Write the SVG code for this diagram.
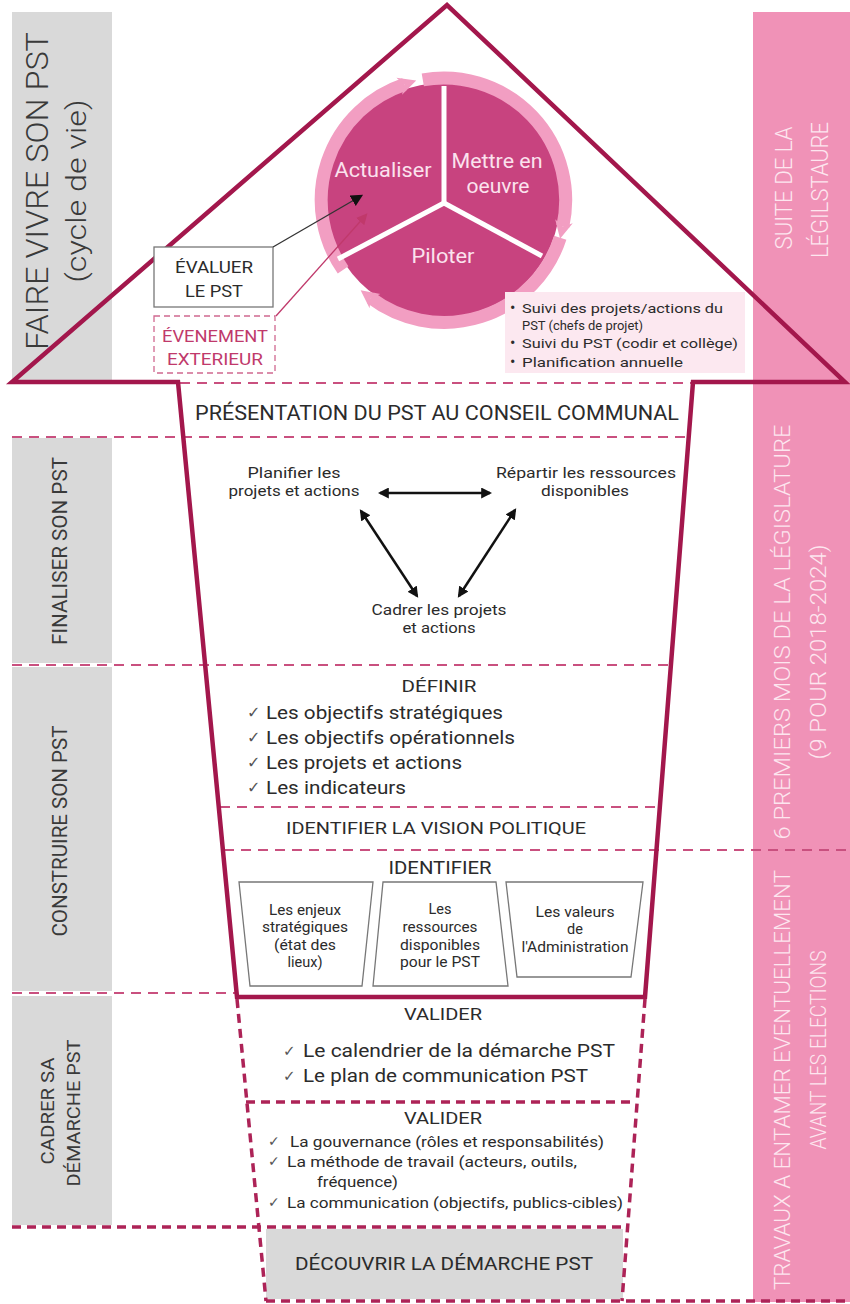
<svg xmlns="http://www.w3.org/2000/svg" width="850" height="1304" viewBox="0 0 850 1304">
<style>
.t{font-family:Roboto,"DejaVu Sans",sans-serif;fill:#2b2b2b}
.c{text-anchor:middle}
.dash{stroke:#c9507f;stroke-width:2;stroke-dasharray:10 7;fill:none}
.bdash{stroke:#ad2357;stroke-width:3.5;stroke-dasharray:9 6;fill:none}
.side{fill:#d9d9d9}
.lbl{font-family:Roboto,"DejaVu Sans",sans-serif;fill:#3a3a3a;text-anchor:middle}
.pk{font-family:Roboto,"DejaVu Sans",sans-serif;fill:#fde6ef;font-weight:300;text-anchor:middle}
.ck{font-family:"DejaVu Sans",sans-serif;fill:#555}
.box{fill:#fff;stroke:#777;stroke-width:1.3}
.cyc{font-family:Roboto,"DejaVu Sans",sans-serif;fill:#fbe2ee;text-anchor:middle;font-size:20px}
.ring{fill:none;stroke:#f29ec2;stroke-width:13}
.arr{stroke:#111;stroke-width:2.5;fill:none}
.bx{font-size:14.5px}
</style>
<defs>
<marker id="ah" viewBox="0 0 10 10" refX="8" refY="5" markerWidth="11" markerHeight="11" markerUnits="userSpaceOnUse" orient="auto-start-reverse"><path d="M0,0 L10,5 L0,10 Z" fill="#111"/></marker>
<marker id="ahb" viewBox="0 0 10 10" refX="8" refY="5" markerWidth="12" markerHeight="12" markerUnits="userSpaceOnUse" orient="auto"><path d="M0,0 L10,5 L0,10 Z" fill="#111"/></marker>
<marker id="ahp" viewBox="0 0 10 10" refX="8" refY="5" markerWidth="11" markerHeight="11" markerUnits="userSpaceOnUse" orient="auto"><path d="M0,0 L10,5 L0,10 Z" fill="#c0396b"/></marker>
<marker id="ringh" viewBox="0 0 10 10" refX="3" refY="5" markerWidth="18" markerHeight="22" markerUnits="userSpaceOnUse" orient="auto"><path d="M0,0 L10,5 L0,10 L3,5 Z" fill="#f29ec2"/></marker>
</defs>
<rect width="850" height="1304" fill="#fff"/>

<!-- side bars -->
<g id="side-left">
<rect class="side" x="12" y="12" width="100" height="370"/>
<rect class="side" x="12" y="438" width="100" height="225"/>
<rect class="side" x="12" y="667" width="100" height="324"/>
<rect class="side" x="12" y="996" width="100" height="229"/>
<text class="lbl" transform="translate(48,191) rotate(-90)" font-size="32" font-weight="300" textLength="318" lengthAdjust="spacingAndGlyphs">FAIRE VIVRE SON PST</text>
<text class="lbl" transform="translate(86,191) rotate(-90)" font-size="27" font-weight="300" textLength="183" lengthAdjust="spacingAndGlyphs">(cycle de vie)</text>
<text class="lbl" transform="translate(67,551) rotate(-90)" font-size="20" textLength="188" lengthAdjust="spacingAndGlyphs">FINALISER SON PST</text>
<text class="lbl" transform="translate(67,831) rotate(-90)" font-size="20" textLength="211" lengthAdjust="spacingAndGlyphs">CONSTRUIRE SON PST</text>
<text class="lbl" transform="translate(54,1111) rotate(-90)" font-size="19" font-family="Liberation Sans, sans-serif" textLength="107" lengthAdjust="spacingAndGlyphs">CADRER SA</text>
<text class="lbl" transform="translate(80,1113) rotate(-90)" font-size="19" font-family="Liberation Sans, sans-serif" textLength="147" lengthAdjust="spacingAndGlyphs">DÉMARCHE PST</text>
</g>

<g id="side-right">
<rect x="753" y="12" width="97" height="1290" fill="#f092b7"/>
<text class="pk" transform="translate(792,188) rotate(-90)" font-size="24" textLength="123" lengthAdjust="spacingAndGlyphs">SUITE DE LA</text>
<text class="pk" transform="translate(828,190) rotate(-90)" font-size="24" textLength="136" lengthAdjust="spacingAndGlyphs">LÉGILSTAURE</text>
<text class="pk" transform="translate(790,632) rotate(-90)" font-size="22" textLength="415" lengthAdjust="spacingAndGlyphs">6 PREMIERS MOIS DE LA LÉGISLATURE</text>
<text class="pk" transform="translate(826,652) rotate(-90)" font-size="22" textLength="215" lengthAdjust="spacingAndGlyphs">(9 POUR 2018-2024)</text>
<text class="pk" transform="translate(790,1080) rotate(-90)" font-size="22" textLength="420" lengthAdjust="spacingAndGlyphs">TRAVAUX  A ENTAMER EVENTUELLEMENT</text>
<text class="pk" transform="translate(826,1050) rotate(-90)" font-size="22" textLength="199" lengthAdjust="spacingAndGlyphs">AVANT LES ELECTIONS</text>
</g>

<!-- dashed separators -->
<g id="separators">
<line class="dash" x1="180" y1="383" x2="691" y2="383"/>
<line class="dash" x1="12" y1="437" x2="688" y2="437"/>
<line class="dash" x1="12" y1="665" x2="670" y2="665"/>
<line class="dash" x1="220" y1="807" x2="656" y2="807"/>
<line class="dash" x1="224" y1="850" x2="850" y2="850"/>
<line class="dash" x1="12" y1="993" x2="236" y2="993"/>
<line class="bdash" x1="246" y1="1102" x2="636" y2="1102"/>
<line class="bdash" x1="12" y1="1227" x2="629" y2="1227"/>
<line class="bdash" x1="266" y1="1301" x2="850" y2="1301"/>
</g>

<!-- discover box -->
<g id="decouvrir">
<rect x="266" y="1229" width="357" height="70" fill="#d9d9d9"/>
<text class="t c" x="444" y="1270" font-size="19" textLength="298" lengthAdjust="spacingAndGlyphs">DÉCOUVRIR LA DÉMARCHE PST</text>
</g>

<!-- house outline -->
<g id="house">
<path d="M178,382 L12,382 L447,5 L845,382 L693,382 L645,997 L237,997 Z" fill="none" stroke="#a3174c" stroke-width="4.5" stroke-linejoin="miter"/>
<line class="bdash" x1="237" y1="999" x2="266" y2="1301"/>
<line class="bdash" x1="645" y1="999" x2="622" y2="1301"/>
</g>

<!-- cycle -->
<g id="cycle">
<circle cx="443" cy="200" r="117" fill="#c8437f"/>
<path class="ring" d="M343.1,269.9 A122,122 0 0,1 404.3,84.5" marker-end="url(#ringh)"/>
<path class="ring" d="M422.8,79.9 A122,122 0 0,1 562.8,226.5" marker-end="url(#ringh)"/>
<path class="ring" d="M560.2,237.7 A122,122 0 0,1 370.7,297.9" marker-end="url(#ringh)"/>
<g stroke="#fff" stroke-width="5" stroke-linecap="butt">
<line x1="444" y1="203" x2="444" y2="86"/>
<line x1="444" y1="203" x2="338" y2="259"/>
<line x1="444" y1="203" x2="542" y2="256"/>
</g>
<text class="cyc" x="383" y="177" textLength="97" lengthAdjust="spacingAndGlyphs">Actualiser</text>
<text class="cyc" x="497" y="168" textLength="91" lengthAdjust="spacingAndGlyphs">Mettre en</text>
<text class="cyc" x="498" y="193" textLength="63" lengthAdjust="spacingAndGlyphs">oeuvre</text>
<text class="cyc" x="443" y="263" textLength="63" lengthAdjust="spacingAndGlyphs">Piloter</text>
</g>

<!-- evaluer / evenement -->
<g id="evaluer">
<rect class="box" x="154" y="247" width="119" height="60" stroke="#666"/>
<text class="t c" x="214" y="273" font-size="17" fill="#333" textLength="78" lengthAdjust="spacingAndGlyphs">ÉVALUER</text>
<text class="t c" x="214" y="297" font-size="17" fill="#333" textLength="58" lengthAdjust="spacingAndGlyphs">LE PST</text>
</g>
<g id="evenement">
<rect x="154" y="316" width="121" height="57" fill="#fff" stroke="#d06890" stroke-width="1.3" stroke-dasharray="6 4"/>
<text class="t c" x="215" y="342" font-size="17" style="fill:#c0396b" textLength="106" lengthAdjust="spacingAndGlyphs">ÉVENEMENT</text>
<text class="t c" x="215" y="365" font-size="17" style="fill:#c0396b" textLength="96" lengthAdjust="spacingAndGlyphs">EXTERIEUR</text>
</g>

<!-- suivi box -->
<g id="suivi">
<rect x="505" y="292" width="240" height="81" fill="#fce8f0"/>
<g class="t" font-size="13.5" fill="#444">
<text x="510" y="313" font-size="16">•</text><text x="522" y="313" textLength="201" lengthAdjust="spacingAndGlyphs">Suivi des projets/actions du</text>
<text x="522" y="330" textLength="121" lengthAdjust="spacingAndGlyphs">PST (chefs de projet)</text>
<text x="510" y="348" font-size="16">•</text><text x="522" y="348" textLength="216" lengthAdjust="spacingAndGlyphs">Suivi du PST (codir et collège)</text>
<text x="510" y="367" font-size="16">•</text><text x="522" y="367" textLength="161" lengthAdjust="spacingAndGlyphs">Planification annuelle</text>
</g>
</g>

<!-- middle content -->
<g id="presentation">
<text class="t c" x="437" y="420" font-size="19.5" textLength="484" lengthAdjust="spacingAndGlyphs">PRÉSENTATION DU PST AU CONSEIL COMMUNAL</text>
</g>
<g id="planifier">
<text class="t c" x="294" y="478" font-size="15.5" textLength="93" lengthAdjust="spacingAndGlyphs">Planifier les</text>
<text class="t c" x="294" y="496" font-size="15.5" textLength="131" lengthAdjust="spacingAndGlyphs">projets et actions</text>
</g>
<g id="repartir">
<text class="t c" x="586" y="478" font-size="15.5" textLength="180" lengthAdjust="spacingAndGlyphs">Répartir les ressources</text>
<text class="t c" x="585" y="496" font-size="15.5" textLength="88" lengthAdjust="spacingAndGlyphs">disponibles</text>
</g>
<g id="cadrer">
<text class="t c" x="439" y="615" font-size="15.5" textLength="135" lengthAdjust="spacingAndGlyphs">Cadrer les projets</text>
<text class="t c" x="439" y="633" font-size="15.5" textLength="73" lengthAdjust="spacingAndGlyphs">et actions</text>
</g>

<g id="definir">
<text class="t c" x="439" y="692" font-size="17" textLength="75" lengthAdjust="spacingAndGlyphs">DÉFINIR</text>
<text class="ck" x="247" y="718" font-size="16">✓</text>
<text class="ck" x="247" y="743" font-size="16">✓</text>
<text class="ck" x="247" y="768" font-size="16">✓</text>
<text class="ck" x="247" y="793" font-size="16">✓</text>
<text class="t" x="266" y="719" font-size="18" textLength="237" lengthAdjust="spacingAndGlyphs">Les objectifs stratégiques</text>
<text class="t" x="266" y="744" font-size="18" textLength="249" lengthAdjust="spacingAndGlyphs">Les objectifs opérationnels</text>
<text class="t" x="266" y="769" font-size="18" textLength="196" lengthAdjust="spacingAndGlyphs">Les projets et actions</text>
<text class="t" x="266" y="794" font-size="18" textLength="140" lengthAdjust="spacingAndGlyphs">Les indicateurs</text>
</g>

<g id="vision">
<text class="t c" x="436" y="834" font-size="17" textLength="300" lengthAdjust="spacingAndGlyphs">IDENTIFIER LA VISION POLITIQUE</text>
</g>

<g id="identifier">
<text class="t c" x="440" y="874" font-size="17.5" textLength="103" lengthAdjust="spacingAndGlyphs">IDENTIFIER</text>
</g>
<g id="enjeux">
<polygon class="box" points="239,882 373,882 362,986 250,986"/>
<text class="t c bx" x="305" y="915" textLength="72" lengthAdjust="spacingAndGlyphs">Les enjeux</text>
<text class="t c bx" x="305" y="932" textLength="86" lengthAdjust="spacingAndGlyphs">stratégiques</text>
<text class="t c bx" x="305" y="950" textLength="62" lengthAdjust="spacingAndGlyphs">(état des</text>
<text class="t c bx" x="305" y="967">lieux)</text>
</g>
<g id="ressources">
<polygon class="box" points="383,882 496,882 508,986 373,986"/>
<text class="t c bx" x="440" y="914">Les</text>
<text class="t c bx" x="440" y="932" textLength="75" lengthAdjust="spacingAndGlyphs">ressources</text>
<text class="t c bx" x="440" y="950" textLength="80" lengthAdjust="spacingAndGlyphs">disponibles</text>
<text class="t c bx" x="440" y="967" textLength="80" lengthAdjust="spacingAndGlyphs">pour le PST</text>
</g>
<g id="valeurs">
<polygon class="box" points="506,882 643,882 631,977 517,977"/>
<text class="t c bx" x="575" y="917" textLength="79" lengthAdjust="spacingAndGlyphs">Les valeurs</text>
<text class="t c bx" x="575" y="934">de</text>
<text class="t c bx" x="575" y="952" textLength="107" lengthAdjust="spacingAndGlyphs">l'Administration</text>
</g>

<g id="valider1">
<text class="t c" x="443" y="1020" font-size="17" textLength="78" lengthAdjust="spacingAndGlyphs">VALIDER</text>
<text class="ck" x="283" y="1056" font-size="15">✓</text>
<text class="ck" x="283" y="1081" font-size="15">✓</text>
<text class="t" x="303" y="1057" font-size="18" textLength="312" lengthAdjust="spacingAndGlyphs">Le calendrier de la démarche PST</text>
<text class="t" x="303" y="1082" font-size="18" textLength="285" lengthAdjust="spacingAndGlyphs">Le plan de communication PST</text>
</g>

<g id="valider2">
<text class="t c" x="443" y="1124" font-size="17" textLength="78" lengthAdjust="spacingAndGlyphs">VALIDER</text>
<text class="ck" x="268" y="1146" font-size="14">✓</text>
<text class="ck" x="268" y="1166" font-size="14">✓</text>
<text class="ck" x="268" y="1207" font-size="14">✓</text>
<text class="t" x="290" y="1147" font-size="15" textLength="314" lengthAdjust="spacingAndGlyphs">La gouvernance (rôles et responsabilités)</text>
<text class="t" x="287" y="1167" font-size="15" textLength="290" lengthAdjust="spacingAndGlyphs">La méthode de travail (acteurs, outils,</text>
<text class="t" x="317" y="1187" font-size="15" textLength="81" lengthAdjust="spacingAndGlyphs">fréquence)</text>
<text class="t" x="287" y="1208" font-size="15" textLength="336" lengthAdjust="spacingAndGlyphs">La communication (objectifs, publics-cibles)</text>
</g>

<!-- connectors -->
<g id="connectors">
<line class="arr" x1="380" y1="493" x2="490" y2="493" marker-start="url(#ah)" marker-end="url(#ah)"/>
<line class="arr" x1="361" y1="511" x2="417" y2="596" marker-start="url(#ah)" marker-end="url(#ah)"/>
<line class="arr" x1="515" y1="510" x2="459" y2="596" marker-start="url(#ah)" marker-end="url(#ah)"/>
<line x1="273" y1="247" x2="361" y2="196" stroke="#333" stroke-width="1.3" marker-end="url(#ahb)"/>
<line x1="276" y1="316" x2="366" y2="215" stroke="#c0396b" stroke-width="1.3" marker-end="url(#ahp)"/>
</g>
</svg>
